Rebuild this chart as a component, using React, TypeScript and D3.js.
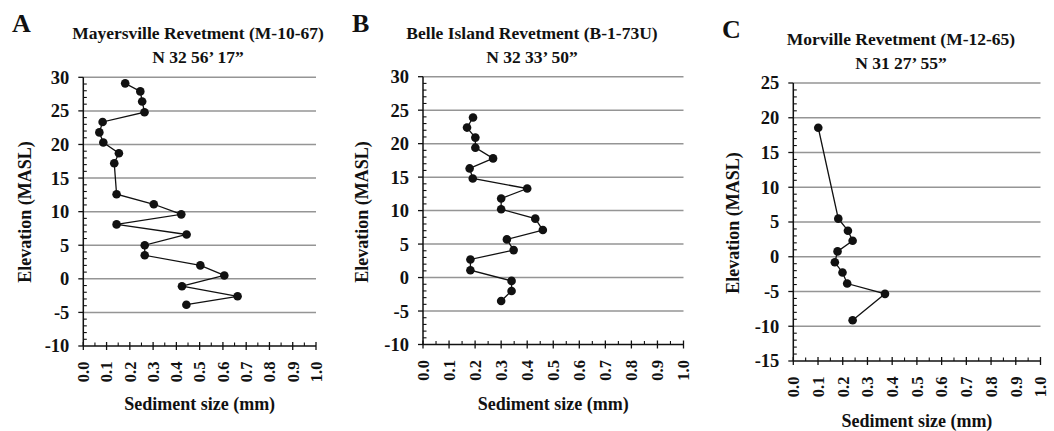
import React from "react";
import * as d3 from "d3";

const sizeA = [0.18, 0.245, 0.253, 0.263, 0.083, 0.069, 0.086, 0.153, 0.133, 0.143, 0.303, 0.421, 0.143, 0.444, 0.264, 0.264, 0.503, 0.606, 0.424, 0.663, 0.443];
const elevA = [29.1, 27.9, 26.4, 24.8, 23.35, 21.8, 20.3, 18.7, 17.2, 12.6, 11.1, 9.6, 8.1, 6.6, 5.0, 3.5, 2.0, 0.5, -1.1, -2.6, -3.85];
const sizeB = [0.192, 0.169, 0.201, 0.201, 0.269, 0.179, 0.191, 0.4, 0.3, 0.3, 0.431, 0.46, 0.322, 0.348, 0.182, 0.182, 0.34, 0.34, 0.3];
const elevB = [23.9, 22.4, 20.9, 19.4, 17.8, 16.3, 14.8, 13.3, 11.8, 10.2, 8.8, 7.1, 5.7, 4.1, 2.7, 1.1, -0.5, -2.0, -3.5];
const sizeC = [0.101, 0.182, 0.221, 0.24, 0.179, 0.168, 0.199, 0.218, 0.371, 0.24];
const elevC = [18.56, 5.48, 3.75, 2.3, 0.77, -0.8, -2.26, -3.85, -5.34, -9.13];

const letters = ["A", "B", "C"];
const titles = ["Mayersville Revetment (M-10-67)", "Belle Island Revetment (B-1-73U)", "Morville Revetment (M-12-65)"];
const coords = ["N 32 56\u2019 17\u201D", "N 32 33\u2019 50\u201D", "N 31 27\u2019 55\u201D"];
const yDomains: [number, number][] = [[-10, 30], [-10, 30], [-15, 25]];
const xTicks = [0, 0.1, 0.2, 0.3, 0.4, 0.5, 0.6, 0.7, 0.8, 0.9, 1.0];
const xLabel = "Sediment size (mm)";
const yLabel = "Elevation (MASL)";

const layouts = [
  { left: 83.3, right: 316, top: 77.3, bottom: 346, letterX: 12, titleX: 198, yLabX: 25, yLabY: 212, xLabY: 410 },
  { left: 423, right: 683.5, top: 76.7, bottom: 344.5, letterX: 352, titleX: 532, yLabX: 362, yLabY: 212, xLabY: 410 },
  { left: 793.3, right: 1040.5, top: 83, bottom: 361, letterX: 722, titleX: 901, yLabX: 733, yLabY: 223, xLabY: 427 },
];

const FONT = "Liberation Serif, Times New Roman, Times, serif";

function Panel({ i, sizes, elevs }: { i: number; sizes: number[]; elevs: number[] }) {
  const L = layouts[i];
  const x = d3.scaleLinear().domain([0, 1]).range([L.left, L.right]);
  const y = d3.scaleLinear().domain(yDomains[i]).range([L.bottom, L.top]);
  const yMajor = d3.range(yDomains[i][0], yDomains[i][1] + 0.01, 5);
  const yMinor = d3.range(yDomains[i][0], yDomains[i][1] + 0.01, 1).filter((v) => Math.abs(v % 5) > 0.01);
  const xMinor = d3.range(0.05, 1, 0.1);
  const pts = sizes.map((s, k) => [s, elevs[k]] as [number, number]);
  const line = d3.line<[number, number]>().x((d) => x(d[0])).y((d) => y(d[1]));
  const plotCenter = (L.left + L.right) / 2;
  return (
    <g style={{ fontFamily: FONT, fontWeight: 700 }} fill="#111">
      <text x={L.letterX} y={L.top - 45} fontSize={26}>{letters[i]}</text>
      <text x={L.titleX} y={L.top - 38} fontSize={17.5} textAnchor="middle">{titles[i]}</text>
      <text x={L.titleX} y={L.top - 14} fontSize={17.5} textAnchor="middle">{coords[i]}</text>
      {yMajor.filter((v) => v !== yDomains[i][0]).map((v) => (
        <line key={"g" + v} x1={L.left} x2={L.right} y1={y(v)} y2={y(v)} stroke="#959595" strokeWidth={1.5} />
      ))}
      {yMajor.map((v) => (
        <g key={"yt" + v}>
          <line x1={L.left - 5} x2={L.left} y1={y(v)} y2={y(v)} stroke="#111" strokeWidth={1.3} />
          <text x={L.left - 14} y={y(v)} dy="0.35em" fontSize={18.5} textAnchor="end">{v}</text>
        </g>
      ))}
      {yMinor.map((v) => (
        <line key={"ym" + v} x1={L.left} x2={L.left + 3.5} y1={y(v)} y2={y(v)} stroke="#111" strokeWidth={1.1} />
      ))}
      {xTicks.map((v) => (
        <g key={"xt" + v}>
          <line x1={x(v)} x2={x(v)} y1={L.bottom - 4} y2={L.bottom + 4} stroke="#111" strokeWidth={1.3} />
          <text transform={`translate(${x(v)},${L.bottom + 15.5}) rotate(-90)`} dy="0.35em" fontSize={16.5} textAnchor="end">{v.toFixed(1)}</text>
        </g>
      ))}
      {xMinor.map((v) => (
        <line key={"xm" + v} x1={x(v)} x2={x(v)} y1={L.bottom - 3.5} y2={L.bottom} stroke="#111" strokeWidth={1.1} />
      ))}
      <line x1={L.left} x2={L.left} y1={L.top} y2={L.bottom} stroke="#111" strokeWidth={1.5} />
      <line x1={L.left} x2={L.right} y1={L.bottom} y2={L.bottom} stroke="#111" strokeWidth={1.5} />
      <path d={line(pts) || ""} fill="none" stroke="#111" strokeWidth={1.3} />
      {pts.map((p, k) => (
        <circle key={"p" + k} cx={x(p[0])} cy={y(p[1])} r={4.3} fill="#111" />
      ))}
      <text x={plotCenter} y={L.xLabY} fontSize={18} textAnchor="middle">{xLabel}</text>
      <text transform={`translate(${L.yLabX},${L.yLabY}) rotate(-90)`} dy="0.35em" fontSize={18} textAnchor="middle">{yLabel}</text>
    </g>
  );
}

export default function App() {
  return (
    <svg width={1054} height={431} style={{ position: "absolute", left: 0, top: 0, background: "#fff" }}>
      <rect width={1054} height={431} fill="#fff" />
      <Panel i={0} sizes={sizeA} elevs={elevA} />
      <Panel i={1} sizes={sizeB} elevs={elevB} />
      <Panel i={2} sizes={sizeC} elevs={elevC} />
    </svg>
  );
}
